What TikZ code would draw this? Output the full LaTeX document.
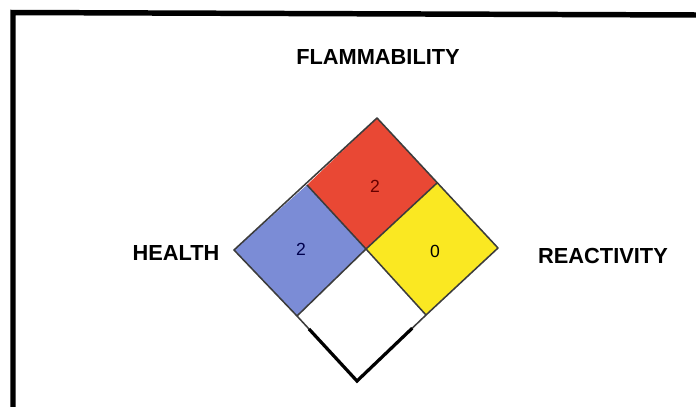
\documentclass[tikz,border=0pt]{standalone}
\usepackage{fontspec}
\setmainfont{Liberation Sans}
\usetikzlibrary{calc}

\definecolor{blusalute}{RGB}{123,140,214}
\definecolor{rossofuoco}{RGB}{233,72,52}
\definecolor{giallorea}{RGB}{250,232,34}
\definecolor{bordo}{RGB}{60,60,60}

\tikzset{
  etichetta/.style={font=\fontsize{15.5}{16}\selectfont\bfseries, inner sep=0pt},
  numero/.style={font=\fontsize{12.5}{13}\selectfont, inner sep=0pt},
  quadro/.style={draw=bordo, line width=1.1pt, line join=round}
}

\begin{document}
\begin{tikzpicture}[x=0.025cm,y=-0.025cm]
  \useasboundingbox (0,0) rectangle (696,407);

  % cornice
  \draw[line width=3.9pt] (13,407) -- (13,12.5) -- (696,15);

  % vertici
  \coordinate (top) at (377,118);
  \coordinate (rdx) at (437,183);
  \coordinate (dx) at (498,248);
  \coordinate (rsx) at (307,185);
  \coordinate (cen) at (366,249);
  \coordinate (sx) at (234,250);
  \coordinate (gbot) at (426,315);
  \coordinate (bbot) at (297,316);
  \coordinate (bot) at (357,381);

  % rombo
  \fill[rossofuoco] (top) -- (rdx) -- (cen) -- (rsx) -- cycle;
  \fill[blusalute] (rsx) -- (cen) -- (bbot) -- (sx) -- cycle;
  \fill[giallorea] (rdx) -- (dx) -- (gbot) -- (cen) -- cycle;
  \draw[quadro] (top) -- (dx) -- (gbot) -- (bot) -- (bbot) -- (sx) -- cycle;
  \draw[quadro] (rsx) -- (cen) -- (gbot);
  \draw[quadro] (rdx) -- (cen) -- (bbot);
  \draw[line width=2.3pt] ($(bbot)!0.2!(bot)$) -- (bot) -- ($(gbot)!0.2!(bot)$);

  % numeri
  \node[numero, text=red!40!black] (nfuoco) at (375,186) {2};
  \node[numero, text=blue!30!black] (nsalute) at (301,249) {2};
  \node[numero] (nrea) at (435,251) {0};

  % etichette
  \node[etichetta] (flam) at (378,57) {FLAMMABILITY};
  \node[etichetta] (salute) at (176,253) {HEALTH};
  \node[etichetta] (rea) at (603,256) {REACTIVITY};
\end{tikzpicture}
\end{document}
